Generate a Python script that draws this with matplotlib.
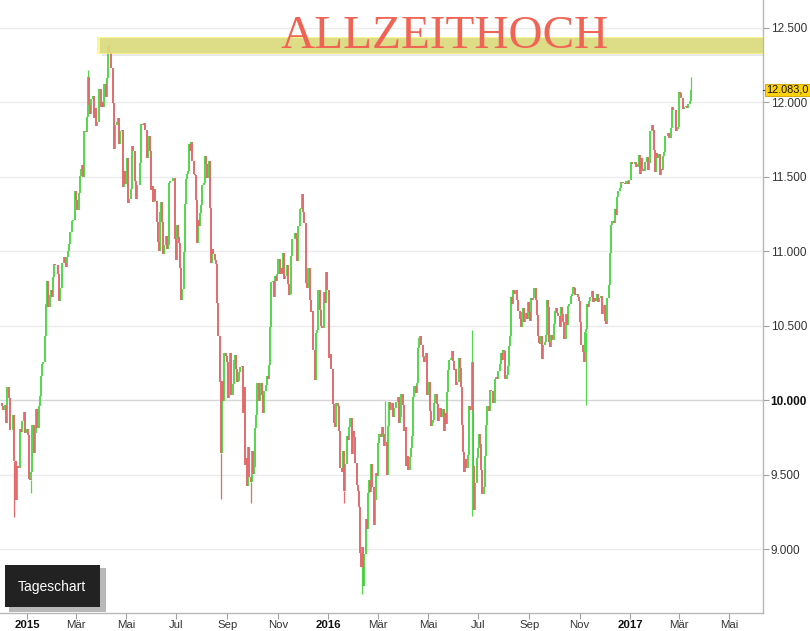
import numpy as np
import matplotlib
matplotlib.use("Agg")
import matplotlib.pyplot as plt
import matplotlib.dates as mdates
import matplotlib.transforms as mtrans
from matplotlib.patches import Rectangle

plt.rcParams['font.family'] = ['Liberation Sans', 'DejaVu Sans']

prev_close = 9980  # Schluss vor dem ersten Balken
dec14 = [9963, 9935, 9971, 9851, 10087, 10014, 9799, 9800, 9903, 9594, 9335, 9563, 9544,
         9811, 9787, 9865, 9922, 9783, 9806]
jan15 = [9765, 9473, 9469, 9518, 9837, 9648, 9781, 9941, 9817, 9960, 10032, 10167, 10242,
         10257, 10435, 10649, 10798, 10628, 10710, 10738, 10694]
feb15 = [10828, 10912, 10911, 10906, 10846, 10664, 10754, 10752, 10920, 10963, 10924, 10895,
         10961, 11002, 11051, 11130, 11206, 11211, 11210, 11402]
mar15 = [11345, 11280, 11390, 11504, 11551, 11582, 11500, 11806, 11799, 11901, 12167, 11980,
         11922, 12019, 12039, 11895, 11964, 11844, 11865, 11868, 12086, 11966]
apr15 = [12001, 11967, 12123, 12035, 12166, 12375, 12338, 12228, 12231, 11998, 11689, 11850,
         11869, 11896, 11723, 11810, 11811, 11432, 11542, 11454]
may15 = [11628, 11327, 11350, 11417, 11709, 11673, 11472, 11351, 11447, 11447, 11592, 11853,
         11849, 11864, 11815, 11625, 11771, 11673, 11413]
jun15 = [11436, 11328, 11419, 11340, 11197, 11065, 11001, 11265, 11333, 11197, 10985, 11044,
         11100, 11016, 11041, 11460, 11471, 11472, 11473, 11492, 11084, 10945]
jul15 = [11180, 11099, 11058, 10890, 10676, 10747, 10997, 11316, 11485, 11516, 11540, 11717,
         11674, 11735, 11604, 11520, 11513, 11347, 11057, 11211, 11173, 11257, 11309]
aug15 = [11444, 11456, 11637, 11585, 11490, 11604, 11293, 10925, 11014, 10985, 10940, 10915,
         10655, 10432, 10124, 9648, 10128, 9998, 10315, 10298, 10259]
sep15 = [10016, 10048, 10318, 10038, 10109, 10271, 10303, 10210, 10123, 10131, 10188, 10227,
         10229, 9916, 10092, 9570, 9612, 9428, 9688, 9483, 9450, 9660]
oct15 = [9509, 9553, 9814, 9902, 10118, 9994, 10097, 10119, 10033, 9915, 10064, 10104, 10164,
         10147, 10238, 10491, 10795, 10801, 10692, 10832, 10800, 10850]
nov15 = [10951, 10846, 10887, 10845, 10988, 10815, 10833, 10907, 10783, 10708, 10713, 10971,
         11085, 11086, 11120, 11092, 10934, 11170, 11284, 11293, 11382]
dec15 = [11261, 11190, 10789, 10752, 10886, 10673, 10592, 10598, 10340, 10139, 10451, 10470,
         10738, 10608, 10498, 10488, 10727, 10653, 10860, 10743]
jan16 = [10283, 10310, 10214, 9979, 9849, 9825, 9985, 9960, 9794, 9545, 9521, 9664, 9391,
         9574, 9764, 9737, 9822, 9880, 9639, 9798]
feb16 = [9757, 9581, 9434, 9393, 9286, 8979, 8880, 9018, 8752, 8967, 9206, 9135, 9377, 9463,
         9388, 9573, 9416, 9167, 9331, 9513, 9495]
mar16 = [9717, 9776, 9752, 9824, 9778, 9692, 9723, 9498, 9831, 9990, 9933, 9984, 9892, 9950,
         9948, 9990, 10022, 9851, 9887, 10046, 9966]
apr16 = [9794, 9822, 9563, 9624, 9530, 9622, 9682, 9761, 10026, 10094, 10051, 10120, 10350,
         10421, 10435, 10373, 10294, 10259, 10299, 10321, 10039]
may16 = [10123, 9926, 9828, 9851, 9870, 9980, 10045, 9975, 9862, 9952, 9952, 9890, 9943, 9795,
         9916, 9842, 10057, 10205, 10272, 10287, 10333, 10263]
jun16 = [10205, 10208, 10103, 10121, 10287, 10217, 10089, 9834, 9657, 9519, 9606, 9550, 9631,
         9962, 9937, 9938, 10257, 9557, 9268, 9447, 9612, 9680]
jul16 = [9776, 9709, 9532, 9373, 9418, 9629, 9833, 9964, 9930, 10068, 10066, 10063, 9981,
         10142, 10156, 10147, 10198, 10247, 10319, 10274, 10337]
aug16 = [10330, 10144, 10170, 10228, 10367, 10432, 10692, 10650, 10742, 10713, 10739, 10676,
         10603, 10603, 10544, 10495, 10592, 10622, 10529, 10587, 10544, 10657, 10592]
sep16 = [10534, 10684, 10672, 10687, 10752, 10675, 10573, 10432, 10386, 10379, 10431, 10276,
         10373, 10393, 10436, 10674, 10627, 10394, 10361, 10438, 10405, 10511]
oct16 = [10600, 10619, 10585, 10568, 10490, 10624, 10577, 10523, 10414, 10580, 10504, 10631,
         10645, 10701, 10711, 10761, 10757, 10709, 10717, 10696, 10665]
nov16 = [10526, 10370, 10325, 10259, 10456, 10482, 10646, 10630, 10667, 10693, 10735, 10663,
         10685, 10664, 10687, 10713, 10662, 10689, 10699, 10582, 10620, 10640]
dec16 = [10534, 10513, 10684, 10775, 10986, 11179, 11203, 11190, 11284, 11244, 11366, 11404,
         11427, 11464, 11468, 11456, 11449, 11472, 11475, 11451, 11481]
jan17 = [11599, 11584, 11585, 11584, 11599, 11563, 11583, 11646, 11521, 11629, 11555, 11540,
         11599, 11599, 11630, 11545, 11595, 11806, 11848, 11814, 11681, 11535]
feb17 = [11659, 11627, 11651, 11509, 11549, 11543, 11642, 11666, 11774, 11771, 11793, 11757,
         11757, 11827, 11967, 11948, 11947, 11804, 11822, 11834]
mar17 = [12067, 12060, 12027, 11958, 11967, 11967, 11978, 11963, 11990, 11989, 12009, 12083]

months = [
    ("2014-12-01", "2015-01-01", dec14), ("2015-01-01", "2015-02-01", jan15),
    ("2015-02-01", "2015-03-01", feb15), ("2015-03-01", "2015-04-01", mar15),
    ("2015-04-01", "2015-05-01", apr15), ("2015-05-01", "2015-06-01", may15),
    ("2015-06-01", "2015-07-01", jun15), ("2015-07-01", "2015-08-01", jul15),
    ("2015-08-01", "2015-09-01", aug15), ("2015-09-01", "2015-10-01", sep15),
    ("2015-10-01", "2015-11-01", oct15), ("2015-11-01", "2015-12-01", nov15),
    ("2015-12-01", "2016-01-01", dec15), ("2016-01-01", "2016-02-01", jan16),
    ("2016-02-01", "2016-03-01", feb16), ("2016-03-01", "2016-04-01", mar16),
    ("2016-04-01", "2016-05-01", apr16), ("2016-05-01", "2016-06-01", may16),
    ("2016-06-01", "2016-07-01", jun16), ("2016-07-01", "2016-08-01", jul16),
    ("2016-08-01", "2016-09-01", aug16), ("2016-09-01", "2016-10-01", sep16),
    ("2016-10-01", "2016-11-01", oct16), ("2016-11-01", "2016-12-01", nov16),
    ("2016-12-01", "2017-01-01", dec16), ("2017-01-01", "2017-02-01", jan17),
    ("2017-02-01", "2017-03-01", feb17), ("2017-03-01", "2017-03-17", mar17),
]

# auffaellige Dochte (Tagestief / Tageshoch)
wick_low = {"2014-12-16": 9219, "2015-01-06": 9382, "2015-08-24": 9338, "2015-09-29": 9310,
            "2016-01-20": 9314, "2016-02-11": 8699, "2016-06-24": 9226, "2016-11-09": 9970}
wick_high = {"2015-03-16": 12219, "2015-04-10": 12390, "2016-03-10": 9995,
             "2016-06-23": 10474, "2017-03-16": 12170}

last_price = 12083.0
ath_band = (12331, 12432)
ath_start = "2015-03-30"

yticks = [9000, 9500, 10000, 10500, 11000, 11500, 12000, 12500]
xtick_dates = ["2015-01-01", "2015-03-01", "2015-05-01", "2015-07-01", "2015-09-01",
               "2015-11-01", "2016-01-01", "2016-03-01", "2016-05-01", "2016-07-01",
               "2016-09-01", "2016-11-01", "2017-01-01", "2017-03-01", "2017-05-01"]
xtick_labels = ["2015", "Mär", "Mai", "Jul", "Sep", "Nov", "2016", "Mär", "Mai", "Jul",
                "Sep", "Nov", "2017", "Mär", "Mai"]

# Balkenpositionen
xs, opens, closes = [], [], []
o = prev_close
for start, end, vals in months:
    t0 = mdates.datestr2num(start)
    t1 = mdates.datestr2num(end)
    step = (t1 - t0) / len(vals)
    for i, c in enumerate(vals):
        xs.append(t0 + (i + 0.5) * step)
        opens.append(o)
        closes.append(c)
        o = c
xs = np.array(xs)
opens = np.array(opens)
closes = np.array(closes)
up = closes >= opens

green = '#52d84a'
red = '#e46a6c'

fig = plt.figure(figsize=(8.1, 6.31), dpi=100)
ax = fig.add_axes([0, 18 / 631, 763 / 810, 613 / 631])

x0 = mdates.datestr2num("2015-01-01") - 32.7
x1 = mdates.datestr2num("2017-01-01") + 161.2
ax.set_xlim(x0, x1)
ax.set_ylim(8574, 12686)

for v in yticks:
    ax.axhline(v, color='#d6d6d6' if v == 10000 else '#ebebeb', lw=1, zorder=0)

ax.vlines(xs[up], opens[up], closes[up], colors=green, lw=1.4, zorder=2)
ax.vlines(xs[~up], opens[~up], closes[~up], colors=red, lw=1.4, zorder=2)

for d, v in wick_low.items():
    i = np.argmin(np.abs(xs - mdates.datestr2num(d)))
    ax.vlines(xs[i], v, min(opens[i], closes[i]), colors=green if up[i] else red,
              lw=0.9, zorder=2)
for d, v in wick_high.items():
    i = np.argmin(np.abs(xs - mdates.datestr2num(d)))
    ax.vlines(xs[i], max(opens[i], closes[i]), v, colors=green if up[i] else red,
              lw=0.9, zorder=2)

# Allzeithoch-Markierung
xmin = (mdates.datestr2num(ath_start) - x0) / (x1 - x0)
ax.axhspan(ath_band[0] - 22, ath_band[0], xmin=xmin + 0.003, xmax=1, color='#9a9a9a',
           alpha=0.22, lw=0, zorder=3)
ax.axhspan(ath_band[0] - 6, ath_band[1] + 6, xmin=xmin - 0.003, xmax=1, color='#fbf26c',
           alpha=0.75, lw=0, zorder=3)
ax.axhspan(ath_band[0], ath_band[1], xmin=xmin, xmax=1, color='#d0d384',
           alpha=0.7, lw=0, zorder=4)

for s in ['top', 'left']:
    ax.spines[s].set_visible(False)
for s in ['right', 'bottom']:
    ax.spines[s].set_color('#b8b8b8')
    ax.spines[s].set_linewidth(1)

ax.yaxis.tick_right()
ax.set_yticks(yticks)
ax.set_yticklabels([f"{v:,}".replace(",", ".") for v in yticks])
ax.tick_params(axis='y', length=4, color='#a0a0a0', labelsize=8.5, labelcolor='#333333', pad=1.5)
for lab, v in zip(ax.get_yticklabels(), yticks):
    if v == 10000:
        lab.set_fontweight('bold')
        lab.set_color('#111111')

ax.set_xticks([mdates.datestr2num(d) for d in xtick_dates])
ax.set_xticklabels(xtick_labels)
ax.tick_params(axis='x', length=4, color='#a0a0a0', labelsize=8.2, labelcolor='#333333', pad=1)
for lab in ax.get_xticklabels():
    if lab.get_text().isdigit():
        lab.set_fontweight('bold')
        lab.set_color('#111111')

# aktueller Kurs
blend = mtrans.blended_transform_factory(ax.transAxes, ax.transData)
ax.plot([1.0, 1.006], [last_price, last_price], color='#444444', lw=0.8,
        transform=blend, clip_on=False, zorder=6)
ax.annotate(f"{last_price:,.1f}".replace(",", "X").replace(".", ",").replace("X", "."),
            xy=(1.0, last_price), xycoords=blend, xytext=(2.5, 0), textcoords='offset points',
            ha='left', va='center', fontsize=7.8, color='#111111', annotation_clip=False,
            bbox=dict(boxstyle='square,pad=0.12', fc='#fcd20f', ec='#c9a200', lw=0.6),
            zorder=7)

fig.text(0.549, 1 - 47.7 / 631, "ALLZEITHOCH", family=['Liberation Serif', 'DejaVu Serif'],
         fontsize=34, color='#f06455', ha='center', va='baseline', zorder=8)

# Tageschart-Box
fig.patches.append(Rectangle((9 / 810, 1 - 612 / 631), 97 / 810, 44 / 631,
                             transform=fig.transFigure, fc='#8a8a8a', alpha=0.6, lw=0,
                             zorder=8))
fig.patches.append(Rectangle((5 / 810, 1 - 607 / 631), 95 / 810, 42 / 631,
                             transform=fig.transFigure, fc='#222222', lw=0, zorder=9))
fig.text(52 / 810, 1 - 587 / 631, "Tageschart", color='white', fontsize=10,
         ha='center', va='center', zorder=10)

fig.savefig("out.png", dpi=100)
